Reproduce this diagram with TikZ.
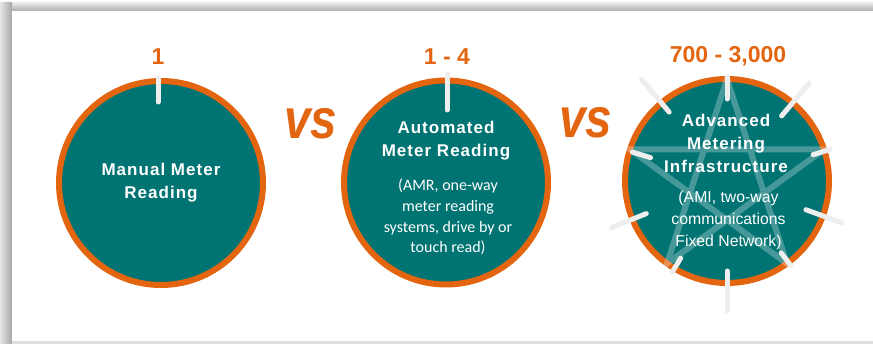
\documentclass[tikz,border=0pt]{standalone}
\usepackage{fontspec}
\setmainfont{Liberation Sans}
\newfontfamily\calib{Carlito}
\newfontfamily\ttlfont{Liberation Sans}[LetterSpace=6]
\usetikzlibrary{calc}
\definecolor{teal1}{RGB}{0,115,115}
\definecolor{orng}{RGB}{227,101,15}
\definecolor{tickc}{RGB}{238,238,238}
\begin{document}
\begin{tikzpicture}[x=1pt,y=1pt,
 disc/.style={circle, fill=teal1, draw=orng, line width=6pt, minimum size=204pt, inner sep=0pt},
 num/.style={text=orng, font=\bfseries\fontsize{23}{23}\selectfont, inner sep=0pt},
 vsl/.style={text=orng, font=\bfseries\itshape\fontsize{56}{56}\selectfont, inner sep=0pt},
 ttl/.style={text=white, align=center, font=\ttlfont\bfseries\fontsize{17}{23}\selectfont, inner sep=0pt},
 subA/.style={text=white, align=center, font=\calib\fontsize{16}{20.7}\selectfont, inner sep=0pt},
 subB/.style={text=white, align=center, font=\fontsize{15.8}{22}\selectfont, inner sep=0pt},
 tickl/.style={draw=tickc, line width=5pt, line cap=round},
 starl/.style={draw=white, draw opacity=0.28, line width=6pt, line join=miter},
]
\useasboundingbox (0,0) rectangle (873,-344);
\fill[white] (0,0) rectangle (873,-344);
\shade[top color=white, bottom color=gray!65] (0,0) rectangle (873,-11);
\shade[left color=gray!20, right color=gray!70] (0,-3) rectangle (12,-344);
\fill[white] (12,-11) rectangle (873,-341.5);
\fill[gray!25] (12,-341.5) rectangle (873,-344);

% circles
\node[disc] (c1) at (161,-183) {};
\node[disc] (c2) at (446,-182.5) {};
\node[disc] (c3) at (727,-181) {};

% star in third circle
\draw[starl] ($(c3)+(90:102)$) -- ($(c3)+(234:102)$) -- ($(c3)+(18:102)$) -- ($(c3)+(162:102)$) -- ($(c3)+(306:102)$) -- cycle;

% ticks
\draw[tickl] (158,-78) -- (158,-102);
\draw[tickl] (447,-74) -- (447,-110);
\foreach \a/\ra/\rb in {90/82/104, 130/90/133, 50/85/128, 17/90/108, 163/80/99, 202/87/125, -20/84/122, 239/90/106, -53/90/106, -90/90/130}
  \draw[tickl] ($(c3)+(\a:\ra)$) -- ($(c3)+(\a:\rb)$);

% numbers
\node[num] (n1) at (158,-57) {1};
\node[num] (n2) at (447,-57) {1 - 4};
\node[num] (n3) at (728,-56.5) {700 - 3,000};

% vs
\node[vsl] (vs1) at (311,-124) {\scalebox{0.85}[1]{vs}};
\node[vsl] (vs2) at (586,-123) {\scalebox{0.85}[1]{vs}};

% texts
\node[ttl] (t1) at (161,-183) {Manual Meter\\Reading};
\node[ttl] (t2) at (446,-140.5) {Automated\\Meter Reading};
\node[subA] (s2) at (448,-217) {(AMR, one-way\\meter reading\\systems, drive by or\\touch read)};
\node[ttl] (t3) at (726,-143) {Advanced\\Metering\\Infrastructure};
\node[subB] (s3) at (728.5,-220) {(AMI, two-way\\communications\\Fixed Network)};
\end{tikzpicture}
\end{document}
